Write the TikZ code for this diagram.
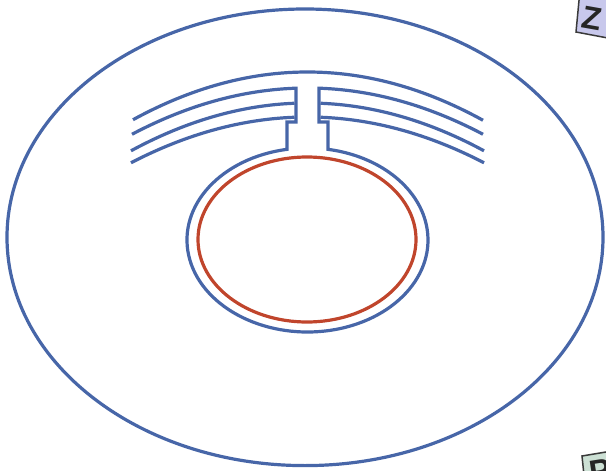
\documentclass[tikz,border=0pt]{standalone}
\usepackage{fontspec}
\setmainfont{Liberation Sans}
\definecolor{lineblue}{HTML}{4766A8}
\definecolor{linered}{HTML}{C0452C}
\definecolor{tabviolet}{HTML}{C8C8EC}
\definecolor{tabgreen}{HTML}{CCE0D4}
\definecolor{tabedge}{HTML}{3A3A3A}
\begin{document}
\begin{tikzpicture}[x=1pt,y=-1pt,
  wall/.style={draw=lineblue,line width=3.2pt,line join=miter},
  membrane/.style={draw=linered,line width=3.2pt},
  tabbox/.style={draw=tabedge,line width=1.5pt},
  tabletter/.style={font=\bfseries\fontsize{32}{32}\selectfont,text=black!85,inner sep=0pt}]
\useasboundingbox (0,0) rectangle (606,471);
\clip (0,0) rectangle (606,471);
% outer ellipse
\draw[wall] (305,237.3) ellipse [x radius=298, y radius=228.3];
% top arc
\draw[wall] plot[domain=133:483,samples=60] (\x,{72+48*((\x-307.5)/175)^2});
% arc 2 joined with stem and inner ellipse
\draw[wall] plot[domain=132:296,samples=50] (\x,{88+46*((\x-307.5)/175)^2})
  -- (296,122) -- (287,122) -- (287,149.34)
  arc[start angle=260.21,end angle=-80.21,x radius=120.5,y radius=92]
  -- (328,122) -- (319,122)
  -- plot[domain=319:483,samples=50] (\x,{88+46*((\x-307.5)/175)^2});
% arc 3
\draw[wall] plot[domain=131:294.5,samples=50] (\x,{103+47*((\x-307.5)/175)^2});
\draw[wall] plot[domain=320.5:484,samples=50] (\x,{103+47*((\x-307.5)/175)^2});
% arc 4
\draw[wall] plot[domain=131:294.5,samples=50] (\x,{117+45*((\x-307.5)/175)^2});
\draw[wall] plot[domain=320.5:484,samples=50] (\x,{117+45*((\x-307.5)/175)^2});
% red inner membrane
\draw[membrane] (307,239.5) ellipse [x radius=109, y radius=82.5];
% corner tabs (cut off)
\filldraw[tabbox,fill=tabviolet] (580,-10) -- (576,32) -- (650,46) -- (654,-4) -- cycle;
\node[tabletter,rotate=-10,anchor=north west] (tz) at (584,6) {Z};
\filldraw[tabbox,fill=tabgreen] (582,456) -- (630,448) -- (634,485) -- (585,485) -- cycle;
\node[tabletter,rotate=9,anchor=north west] (tp) at (588,462) {P};
\end{tikzpicture}
\end{document}
